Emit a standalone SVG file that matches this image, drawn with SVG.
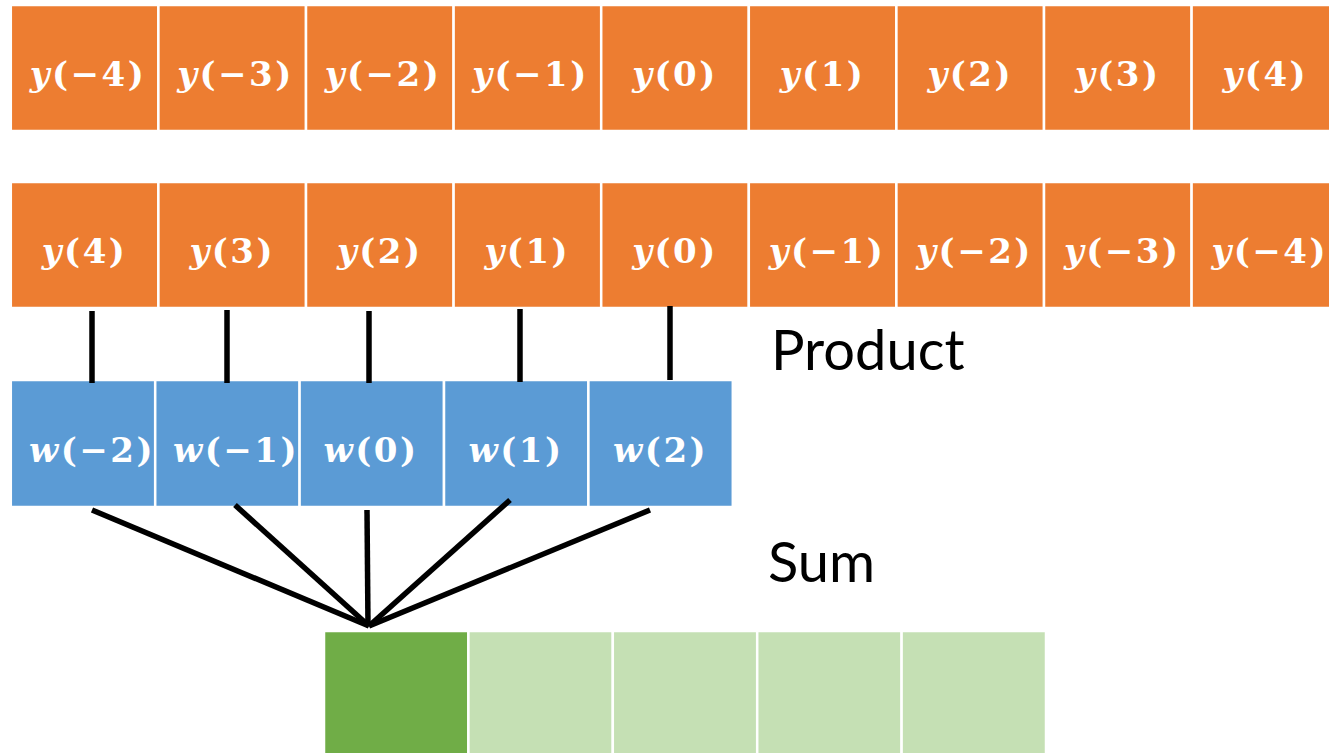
<svg xmlns="http://www.w3.org/2000/svg" width="1329" height="753" viewBox="0 0 1329 753">
<style>
.o{fill:#ED7D31;stroke:#fff;stroke-width:2.5}
.b{fill:#5B9BD5;stroke:#fff;stroke-width:2.5}
.g{fill:#C5E0B4;stroke:#fff;stroke-width:2.5}
.gd{fill:#70AD47;stroke:#fff;stroke-width:2.5}
.m{font-family:"DejaVu Serif","Liberation Serif",serif;font-weight:bold;font-size:34px;fill:#fff;text-anchor:middle;letter-spacing:2.5px}
.v{font-style:italic}
.lbl{font-family:Lato,"Liberation Sans",sans-serif;font-size:56px;fill:#000}
.c{stroke:#000;stroke-width:5.5;fill:none}
</style>
<rect width="1329" height="753" fill="#fff"/>
<g id="row1">
<g id="r1c0"><rect class="o" x="10.8" y="5" width="147.6" height="126"/><text class="m" x="88" y="86"><tspan class="v">y</tspan>(−4)</text></g>
<g id="r1c1"><rect class="o" x="158.4" y="5" width="147.6" height="126"/><text class="m" x="235.5" y="86"><tspan class="v">y</tspan>(−3)</text></g>
<g id="r1c2"><rect class="o" x="306" y="5" width="147.6" height="126"/><text class="m" x="383" y="86"><tspan class="v">y</tspan>(−2)</text></g>
<g id="r1c3"><rect class="o" x="453.6" y="5" width="147.6" height="126"/><text class="m" x="530.5" y="86"><tspan class="v">y</tspan>(−1)</text></g>
<g id="r1c4"><rect class="o" x="601.2" y="5" width="147.6" height="126"/><text class="m" x="675" y="86"><tspan class="v">y</tspan>(0)</text></g>
<g id="r1c5"><rect class="o" x="748.8" y="5" width="147.6" height="126"/><text class="m" x="822.6" y="86"><tspan class="v">y</tspan>(1)</text></g>
<g id="r1c6"><rect class="o" x="896.4" y="5" width="147.6" height="126"/><text class="m" x="970.2" y="86"><tspan class="v">y</tspan>(2)</text></g>
<g id="r1c7"><rect class="o" x="1044" y="5" width="147.6" height="126"/><text class="m" x="1117.8" y="86"><tspan class="v">y</tspan>(3)</text></g>
<g id="r1c8"><rect class="o" x="1191.6" y="5" width="147.6" height="126"/><text class="m" x="1265.4" y="86"><tspan class="v">y</tspan>(4)</text></g>
</g>
<g id="row2">
<g id="r2c0"><rect class="o" x="10.8" y="182" width="147.6" height="126"/><text class="m" x="84.6" y="263"><tspan class="v">y</tspan>(4)</text></g>
<g id="r2c1"><rect class="o" x="158.4" y="182" width="147.6" height="126"/><text class="m" x="232.2" y="263"><tspan class="v">y</tspan>(3)</text></g>
<g id="r2c2"><rect class="o" x="306" y="182" width="147.6" height="126"/><text class="m" x="379.8" y="263"><tspan class="v">y</tspan>(2)</text></g>
<g id="r2c3"><rect class="o" x="453.6" y="182" width="147.6" height="126"/><text class="m" x="527.4" y="263"><tspan class="v">y</tspan>(1)</text></g>
<g id="r2c4"><rect class="o" x="601.2" y="182" width="147.6" height="126"/><text class="m" x="675" y="263"><tspan class="v">y</tspan>(0)</text></g>
<g id="r2c5"><rect class="o" x="748.8" y="182" width="147.6" height="126"/><text class="m" x="827" y="263"><tspan class="v">y</tspan>(−1)</text></g>
<g id="r2c6"><rect class="o" x="896.4" y="182" width="147.6" height="126"/><text class="m" x="974.6" y="263"><tspan class="v">y</tspan>(−2)</text></g>
<g id="r2c7"><rect class="o" x="1044" y="182" width="147.6" height="126"/><text class="m" x="1122.2" y="263"><tspan class="v">y</tspan>(−3)</text></g>
<g id="r2c8"><rect class="o" x="1191.6" y="182" width="147.6" height="126"/><text class="m" x="1269.8" y="263"><tspan class="v">y</tspan>(−4)</text></g>
</g>
<g id="weights">
<g id="w0"><rect class="b" x="10.8" y="380" width="144.4" height="127"/><text class="m" x="92" y="462"><tspan class="v">w</tspan>(−2)</text></g>
<g id="w1"><rect class="b" x="155.2" y="380" width="144.4" height="127"/><text class="m" x="236" y="462"><tspan class="v">w</tspan>(−1)</text></g>
<g id="w2"><rect class="b" x="299.6" y="380" width="144.4" height="127"/><text class="m" x="371" y="462"><tspan class="v">w</tspan>(0)</text></g>
<g id="w3"><rect class="b" x="444" y="380" width="144.4" height="127"/><text class="m" x="516" y="462"><tspan class="v">w</tspan>(1)</text></g>
<g id="w4"><rect class="b" x="588.4" y="380" width="144.4" height="127"/><text class="m" x="660.6" y="462"><tspan class="v">w</tspan>(2)</text></g>
</g>
<g id="outputs">
<g id="o0"><rect class="gd" x="324" y="631" width="144.4" height="130"/></g>
<g id="o1"><rect class="g" x="468.4" y="631" width="144.4" height="130"/></g>
<g id="o2"><rect class="g" x="612.8" y="631" width="144.4" height="130"/></g>
<g id="o3"><rect class="g" x="757.2" y="631" width="144.4" height="130"/></g>
<g id="o4"><rect class="g" x="901.6" y="631" width="144.4" height="130"/></g>
</g>
<g id="labels">
<text class="lbl" x="771" y="370">Product</text>
<text class="lbl" x="768" y="582">Sum</text>
</g>
<g id="connectors">
<line class="c" x1="92" y1="311" x2="92" y2="383"/>
<line class="c" x1="227" y1="310" x2="227" y2="383"/>
<line class="c" x1="369" y1="311" x2="369" y2="383"/>
<line class="c" x1="520" y1="309" x2="520" y2="382"/>
<line class="c" x1="670" y1="306" x2="670" y2="380"/>
<line class="c" x1="92" y1="510" x2="369" y2="626"/>
<line class="c" x1="235" y1="505" x2="369" y2="626"/>
<line class="c" x1="367" y1="510" x2="368" y2="626"/>
<line class="c" x1="510" y1="500" x2="369" y2="626"/>
<line class="c" x1="650" y1="510" x2="369" y2="626"/>
</g>
</svg>
